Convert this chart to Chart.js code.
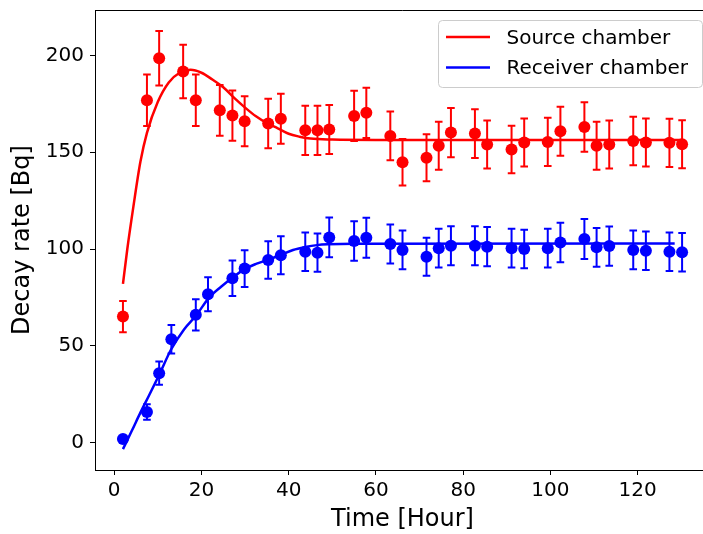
<!DOCTYPE html>
<html>
<head>
<meta charset="utf-8">
<script src="https://cdn.jsdelivr.net/npm/chart.js@4.4.1/dist/chart.umd.min.js"></script>
<style>
    html, body { margin: 0; padding: 0; overflow: hidden; background: #fff; }
    canvas { display: block; }
</style>
</head>
<body>
<canvas id="chart" width="716" height="534"></canvas>
<script>
// measured points (hours) and decay rates with their error bars
const sourceHours = [2, 7.5, 10.3, 15.8, 18.7, 24.2, 27.1, 29.9, 35.3, 38.2, 43.8, 46.6, 49.3, 55, 57.8, 63.3, 66.1, 71.6, 74.4, 77.2, 82.7, 85.5, 91.1, 94, 99.4, 102.3, 107.8, 110.6, 113.5, 119, 121.9, 127.3, 130.2];
const sourceRate = [65.1, 176.8, 198.5, 191.7, 176.8, 171.6, 168.9, 166, 164.8, 167.2, 161.3, 161.3, 161.7, 168.7, 170.3, 158.4, 144.8, 147.1, 153.3, 160.1, 159.6, 154, 151.4, 155, 155.3, 160.8, 163, 153.3, 154, 155.8, 155, 154.8, 154.1];
const sourceErr = [8.1, 13.3, 14.1, 13.8, 13.3, 13.1, 13, 12.9, 12.8, 12.9, 12.7, 12.7, 12.7, 13, 13, 12.6, 12, 12.1, 12.4, 12.7, 12.6, 12.4, 12.3, 12.4, 12.5, 12.7, 12.8, 12.4, 12.4, 12.5, 12.4, 12.4, 12.4];

const receiverHours = [2, 7.5, 10.3, 13.1, 18.7, 21.5, 27.1, 29.9, 35.3, 38.2, 43.8, 46.6, 49.3, 55, 57.8, 63.3, 66.1, 71.6, 74.4, 77.2, 82.7, 85.5, 91.1, 94, 99.4, 102.3, 107.8, 110.6, 113.5, 119, 121.9, 127.3, 130.2];
const receiverRate = [1.9, 15.8, 35.9, 53.4, 66, 76.6, 84.9, 89.9, 94.3, 96.8, 98.6, 98.1, 106, 104.1, 105.8, 102.6, 99.5, 96, 100.4, 101.7, 101.7, 101.2, 100.4, 100, 100.4, 103.4, 105.2, 100.9, 101.5, 99.5, 99.1, 98.6, 98.3];
const receiverErr = [1.4, 4, 6, 7.3, 8.1, 8.8, 9.2, 9.5, 9.7, 9.8, 9.9, 9.9, 10.3, 10.2, 10.3, 10.1, 10, 9.8, 10, 10.1, 10.1, 10.1, 10, 10, 10, 10.2, 10.3, 10, 10.1, 10, 10, 9.9, 9.9];

// fitted curves
const sourceFitHours = [2, 3, 4.4, 6, 7.5, 10, 12.5, 15, 17.5, 20, 22.5, 25, 27.5, 30, 32.5, 35, 37.5, 40, 42.5, 45, 50, 60, 130];
const sourceFit = [82, 100, 122, 145, 160, 176, 186, 191, 192.5, 191, 187.5, 183.5, 178, 173, 168.5, 165, 162.3, 159.5, 158, 157, 156.5, 156.3, 156.3];
const receiverFitHours = [2, 4, 6, 8, 10.5, 13, 16, 18.7, 21.8, 24.5, 27, 29.8, 32.5, 35.3, 38.1, 41, 43.8, 46.5, 49, 55, 128.5];
const receiverFit = [-3.3, 6, 15.5, 24.5, 36, 48, 58.5, 65.5, 75, 80.5, 85, 89.5, 92.3, 94.5, 96.9, 99.5, 101, 102, 102.4, 102.7, 102.8];

const xTicks = [0, 20, 40, 60, 80, 100, 120];
const yTicks = [0, 50, 100, 150, 200];

const seriesLabels = ['Source chamber', 'Receiver chamber'];
const RED = '#ff0000';
const BLUE = '#0000ff';
const FONT = "'DejaVu Sans', sans-serif";

const toPoints = (xs, ys) => xs.map((x, i) => ({ x: x, y: ys[i] }));

// vertical error bars with caps, drawn under the markers
const errorBars = {
    id: 'errorBars',
    beforeDatasetsDraw(chart) {
        const { ctx, scales: { x, y } } = chart;
        ctx.save();
        chart.data.datasets.forEach((ds) => {
            if (!ds.errors) return;
            ctx.strokeStyle = ds.backgroundColor;
            ctx.lineWidth = 2;
            ds.data.forEach((p, i) => {
                const px = x.getPixelForValue(p.x);
                const top = y.getPixelForValue(p.y + ds.errors[i]);
                const bot = y.getPixelForValue(p.y - ds.errors[i]);
                ctx.beginPath();
                ctx.moveTo(px, top);
                ctx.lineTo(px, bot);
                ctx.moveTo(px - 3.8, top);
                ctx.lineTo(px + 3.8, top);
                ctx.moveTo(px - 3.8, bot);
                ctx.lineTo(px + 3.8, bot);
                ctx.stroke();
            });
        });
        ctx.restore();
    }
};

// top and right spines + matplotlib style legend box
const frameAndLegend = {
    id: 'frameAndLegend',
    afterDraw(chart) {
        const { ctx, chartArea: a } = chart;
        ctx.save();
        ctx.strokeStyle = '#000';
        ctx.lineWidth = 1;
        ctx.beginPath();
        ctx.moveTo(a.left, a.top + 0.5);
        ctx.lineTo(a.right + 0.5, a.top + 0.5);
        ctx.lineTo(a.right + 0.5, a.bottom);
        ctx.stroke();

        const bx = 438, by = 20, bw = 264, bh = 67, r = 4;
        ctx.fillStyle = 'rgba(255,255,255,0.8)';
        ctx.strokeStyle = '#cccccc';
        ctx.beginPath();
        ctx.roundRect(bx + 0.5, by + 0.5, bw, bh, r);
        ctx.fill();
        ctx.stroke();

        const fits = chart.data.datasets.filter(d => d.isFit);
        ctx.font = '20px ' + FONT;
        ctx.textBaseline = 'middle';
        fits.forEach((d, i) => {
            const ly = 37 + i * 30.6;
            ctx.strokeStyle = d.borderColor;
            ctx.lineWidth = 2.5;
            ctx.beginPath();
            ctx.moveTo(446, ly);
            ctx.lineTo(490, ly);
            ctx.stroke();
            ctx.fillStyle = '#000';
            ctx.fillText(d.label, 506.5, ly + 1.5);
        });
        ctx.restore();
    }
};

const data = {
    datasets: [
        {
            label: seriesLabels[0],
            isFit: true,
            data: toPoints(sourceFitHours, sourceFit),
            showLine: true,
            borderColor: RED,
            borderWidth: 2.5,
            pointRadius: 0,
            cubicInterpolationMode: 'monotone',
            order: 3,
        },
        {
            label: seriesLabels[1],
            isFit: true,
            data: toPoints(receiverFitHours, receiverFit),
            showLine: true,
            borderColor: BLUE,
            borderWidth: 2.5,
            pointRadius: 0,
            cubicInterpolationMode: 'monotone',
            order: 3,
        },
        {
            label: seriesLabels[0] + ' data',
            data: toPoints(sourceHours, sourceRate),
            errors: sourceErr,
            backgroundColor: RED,
            borderColor: RED,
            pointRadius: 6,
            borderWidth: 0,
            order: 1,
        },
        {
            label: seriesLabels[1] + ' data',
            data: toPoints(receiverHours, receiverRate),
            errors: receiverErr,
            backgroundColor: BLUE,
            borderColor: BLUE,
            pointRadius: 6,
            borderWidth: 0,
            order: 1,
        },
    ]
};

const config = {
    type: 'scatter',
    data: data,
    options: {
        responsive: false,
        animation: false,
        layout: {
            padding: { top: 10, right: 1, left: 0, bottom: 0 }
        },
        scales: {
            x: {
                type: 'linear',
                min: -4.41,
                max: 136.6,
                afterFit: (scale) => {
                    scale.height = 64;
                    scale.paddingLeft = 0;
                    scale.paddingRight = 0;
                },
                afterBuildTicks: (scale) => { scale.ticks = xTicks.map(v => ({ value: v })); },
                grid: {
                    drawOnChartArea: false,
                    drawTicks: true,
                    tickLength: 5,
                    tickWidth: 1,
                    color: '#000',
                },
                border: { display: true, color: '#000', width: 1 },
                ticks: {
                    color: '#000',
                    padding: 4,
                    maxRotation: 0,
                    font: { family: FONT, size: 20 },
                },
                title: {
                    display: true,
                    text: 'Time [Hour]',
                    color: '#000',
                    padding: { top: 0, bottom: 0 },
                    font: { family: FONT, size: 24 },
                },
            },
            y: {
                type: 'linear',
                min: -14.1,
                max: 223.4,
                afterFit: (scale) => {
                    scale.width = 95;
                    scale.paddingTop = 0;
                    scale.paddingBottom = 0;
                },
                afterBuildTicks: (scale) => { scale.ticks = yTicks.map(v => ({ value: v })); },
                grid: {
                    drawOnChartArea: false,
                    drawTicks: true,
                    tickLength: 5,
                    tickWidth: 1,
                    color: '#000',
                },
                border: { display: true, color: '#000', width: 1 },
                ticks: {
                    color: '#000',
                    padding: 6,
                    font: { family: FONT, size: 20 },
                },
                title: {
                    display: true,
                    text: 'Decay rate [Bq]',
                    color: '#000',
                    padding: { top: 8.5, bottom: 0 },
                    font: { family: FONT, size: 24 },
                },
            },
        },
        plugins: {
            legend: { display: false },
            tooltip: { enabled: false },
        },
    },
    plugins: [errorBars, frameAndLegend],
};

new Chart(document.getElementById('chart'), config);
</script>
</body>
</html>
